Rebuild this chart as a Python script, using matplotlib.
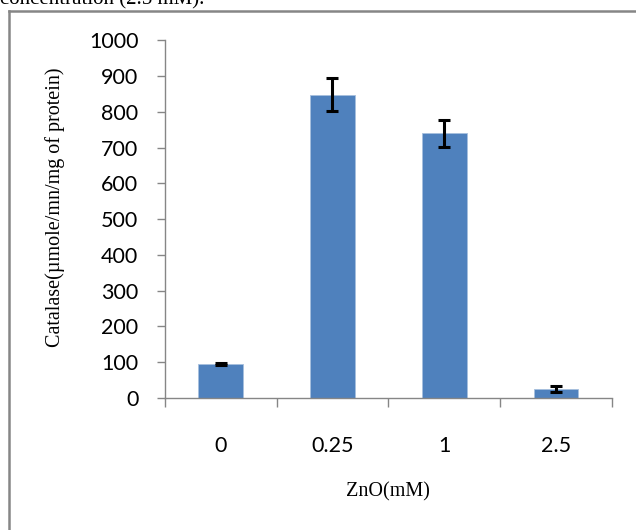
import numpy as np
import matplotlib
matplotlib.use("Agg")
import matplotlib.pyplot as plt
from matplotlib.lines import Line2D

# Data
categories = ["0", "0.25", "1", "2.5"]
catalase = [95, 848, 740, 25]
errors = [3, 47, 38, 8]
y_ticks = [0, 100, 200, 300, 400, 500, 600, 700, 800, 900, 1000]

BAR_COLOR = "#4F81BD"
AXIS_COLOR = "#868686"

fig = plt.figure(figsize=(6.36, 5.30), dpi=100)
ax = fig.add_axes([0.259, 0.249, 0.703, 0.675])

x = np.arange(len(categories))
ax.bar(x, catalase, width=0.40, color=BAR_COLOR, edgecolor="#A7BFDE", linewidth=0.6, zorder=2)
ax.errorbar(x, catalase, yerr=errors, fmt="none", ecolor="black",
            elinewidth=2.2, capsize=4.3, capthick=2.2, zorder=3)

ax.set_xlim(-0.5, len(categories) - 0.5)
ax.set_ylim(0, 1000)
ax.set_yticks(y_ticks)
ax.set_yticklabels([str(v) for v in y_ticks], fontfamily="Lato", fontsize=15.5)

# category labels between boundary ticks, Excel style
ax.set_xticks(x)
ax.set_xticklabels(categories, fontfamily="Lato", fontsize=15.5)
ax.set_xticks(np.arange(-0.5, len(categories)), minor=True)
ax.tick_params(axis="x", which="major", length=0, pad=27)
ax.tick_params(axis="x", which="minor", length=6.5, width=1, color=AXIS_COLOR, direction="out")
ax.tick_params(axis="y", length=6, width=1, color=AXIS_COLOR, direction="out", pad=13)

for side in ["top", "right"]:
    ax.spines[side].set_visible(False)
for side in ["left", "bottom"]:
    ax.spines[side].set_color(AXIS_COLOR)
    ax.spines[side].set_linewidth(1)

fig.text(55 / 636, 1 - 207 / 530, "Catalase(\u00b5mole/mn/mg of protein)",
         rotation=90, ha="center", va="center", fontfamily="Liberation Serif", fontsize=14.5)
fig.text(388 / 636, 1 - 492 / 530, "ZnO(mM)", ha="center", va="center",
         fontfamily="Liberation Serif", fontsize=14.5)

# cropped caption from the document above the chart
fig.text(0.0, 1 - 4 / 530, "concentration (2.5 mM).", ha="left", va="baseline",
         fontfamily="Liberation Serif", fontsize=15)

# chart frame (top and left edges visible)
top_y = 1 - 11 / 530
left_x = 9 / 636
fig.add_artist(Line2D([left_x, 1.0], [top_y, top_y], transform=fig.transFigure,
                      color=AXIS_COLOR, linewidth=1.8))
fig.add_artist(Line2D([left_x, left_x], [0.0, top_y], transform=fig.transFigure,
                      color=AXIS_COLOR, linewidth=1.8))

fig.savefig("out.png", dpi=100)
